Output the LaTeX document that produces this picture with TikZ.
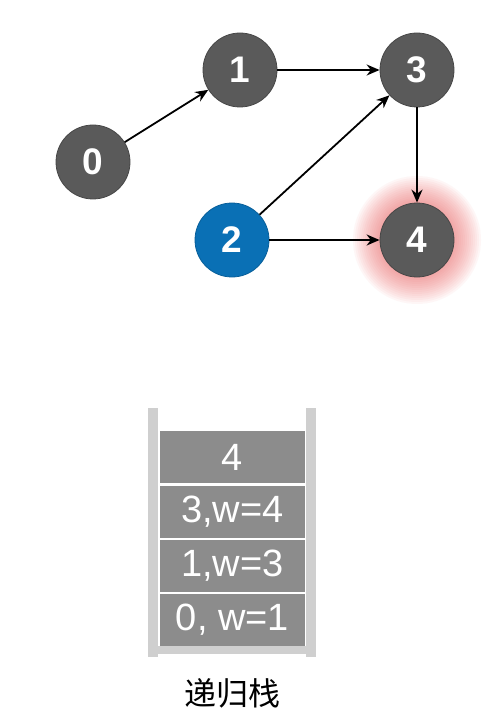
\documentclass[tikz,border=0pt]{standalone}
\usepackage{fontspec}
\setmainfont{Liberation Sans}
\newfontfamily\cjk{Noto Sans CJK SC}
\usetikzlibrary{arrows.meta}
\definecolor{nodegray}{HTML}{5A5A5A}
\definecolor{nodeedge}{HTML}{474747}
\definecolor{nodeblue}{HTML}{0A70B5}
\definecolor{cellgray}{HTML}{8C8C8C}
\definecolor{wallgray}{HTML}{CFCFCF}
\definecolor{glowred}{HTML}{F06060}
\begin{document}
\begin{tikzpicture}[x=1pt,y=-1pt,
  vert/.style={circle,minimum size=74pt,inner sep=0pt,fill=nodegray,draw=nodeedge,line width=0.8pt,text=white,font=\fontsize{37}{37}\selectfont\bfseries},
  bluevert/.style={vert,fill=nodeblue,draw=nodeblue!85!black},
  edge/.style={-{Stealth[length=13pt,width=11pt]},line width=1.8pt,black},
  cell/.style={rectangle,minimum width=145pt,minimum height=52pt,inner sep=0pt,fill=cellgray,text=white,font=\fontsize{38}{38}\selectfont},
  wall/.style={fill=wallgray,draw=none}]
\useasboundingbox (0,0) rectangle (494,719);
\fill[white] (0,0) rectangle (494,719);
% glow
\foreach \r in {64,62,...,38}{
  \fill[glowred,opacity=0.05] (417,240) circle (\r);
}
\node[vert] (n0) at (93,162) {0};
\node[vert] (n1) at (240,70) {1};
\node[vert] (n3) at (417,70) {3};
\node[bluevert] (n2) at (232,240) {2};
\node[vert] (n4) at (417,240) {4};
\draw[edge] (n0) -- (n1);
\draw[edge] (n1) -- (n3);
\draw[edge] (n2) -- (n3);
\draw[edge] (n2) -- (n4);
\draw[edge] (n3) -- (n4);
% stack
\fill[wall] (148,408) rectangle (158,657);
\fill[wall] (306,408) rectangle (316,657);
\fill[wall] (158,646) rectangle (306,654);
\node[cell] (c4) at (232.5,457) {4};
\node[cell] (c3) at (232.5,511.5) {3,w=4};
\node[cell] (c1) at (232.5,565.5) {1,w=3};
\node[cell] (c0) at (232.5,619.5) {0, w=1};
\node[font=\cjk\fontsize{32}{32}\selectfont] (lbl) at (232,693) {递归栈};
\end{tikzpicture}
\end{document}
